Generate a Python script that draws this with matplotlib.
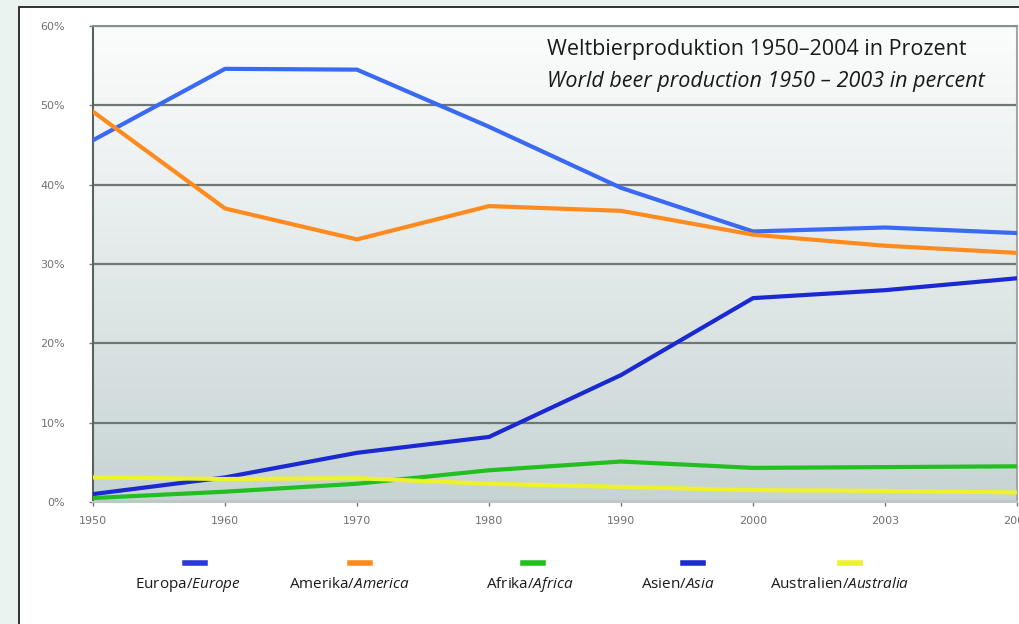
import numpy as np
import matplotlib.pyplot as plt
from matplotlib.patches import Rectangle
from matplotlib.lines import Line2D

# Data (share of world beer production, %)
years = ["1950", "1960", "1970", "1980", "1990", "2000", "2003", "2004"]
europe = [45.6, 54.6, 54.5, 47.3, 39.6, 34.1, 34.6, 33.9]
america = [49.2, 37.0, 33.1, 37.3, 36.7, 33.7, 32.3, 31.4]
africa = [0.5, 1.3, 2.3, 4.0, 5.1, 4.3, 4.4, 4.5]
asia = [1.0, 3.1, 6.2, 8.2, 16.0, 25.7, 26.7, 28.2]
australia = [3.1, 2.9, 3.0, 2.3, 1.9, 1.5, 1.4, 1.2]

names_de = ["Europa", "Amerika", "Afrika", "Asien", "Australien"]
names_en = ["Europe", "America", "Africa", "Asia", "Australia"]
series = [europe, america, africa, asia, australia]
line_colors = ["#3a6af4", "#ff8a1e", "#22c01e", "#1a2ad0", "#eef22a"]
key_colors = ["#2a3ad4", "#ff8a1e", "#22c01e", "#1a2ad0", "#eef22a"]

plt.rcParams['font.family'] = ['Open Sans', 'DejaVu Sans']
plt.rcParams['mathtext.fontset'] = 'custom'
plt.rcParams['mathtext.rm'] = 'Open Sans'
plt.rcParams['mathtext.it'] = 'Open Sans:italic'

fig = plt.figure(figsize=(10.2, 6.24), dpi=100)
fig.patch.set_facecolor("#eaf3ef")

# white panel with black frame (runs off the right and bottom edges)
fig.patches.append(Rectangle((19 / 1020, -0.05), 1.2, 1 - 7 / 624 + 0.05,
                             transform=fig.transFigure, facecolor="white",
                             edgecolor="#222222", linewidth=1.3, zorder=-10))

ax = fig.add_axes([93 / 1020, 1 - 502 / 624, (1017 - 93) / 1020, (502 - 26) / 624])
ax.set_zorder(1)
x = np.arange(len(years))

# gradient background of the plot area
grad = np.linspace(0, 1, 256).reshape(-1, 1)
top = np.array([0.985, 0.988, 0.988])
bottom = np.array([0.78, 0.83, 0.83])
img = top + (bottom - top) * grad[..., None] ** 1.1
ax.imshow(img, extent=[0, 1, 0, 1], transform=ax.transAxes, aspect="auto",
          zorder=0, origin="upper")

for vals, col in zip(series, line_colors):
    ax.plot(x, vals, color=col, linewidth=3, solid_joinstyle="round", zorder=3)

ax.set_xlim(0, len(years) - 1)
ax.set_ylim(0, 60)
ax.set_xticks(x)
ax.set_xticklabels(years)
ax.set_yticks(np.arange(0, 61, 10))
ax.set_yticklabels([f"{v}%" for v in range(0, 61, 10)])
ax.tick_params(axis="both", labelsize=8, labelcolor="#707070", color="#777777",
               length=3, width=1)
ax.tick_params(axis="y", pad=17)
ax.tick_params(axis="x", pad=7)
for lab in ax.get_xticklabels() + ax.get_yticklabels():
    lab.set_family("DejaVu Sans")
ax.grid(axis="y", color="#6f7775", linewidth=1.6, zorder=1)
ax.set_axisbelow(True)
for side, col in [("left", "#5a6260"), ("top", "#8a9290"),
                  ("right", "#a0a8a6"), ("bottom", "#c0c8c6")]:
    ax.spines[side].set_color(col)
    ax.spines[side].set_linewidth(1.5)

# title text inside the plot
fig.text(547 / 1020, 1 - 50 / 624, "Weltbierproduktion 1950\u20132004 in Prozent",
         fontsize=15.5, color="#1a1a1a", va="center", zorder=5)
fig.text(547 / 1020, 1 - 82 / 624, "World beer production 1950 \u2013 2003 in percent",
         fontsize=15.5, color="#1a1a1a", style="italic", va="center", zorder=5)

# legend: short key above each label
key_x = [195, 360, 533, 693, 850]
lab_x = [188, 350, 530, 678, 840]
for de, en, col, kx, lx in zip(names_de, names_en, key_colors, key_x, lab_x):
    fig.lines.append(Line2D([(kx - 10) / 1020, (kx + 10) / 1020], [1 - 563 / 624] * 2,
                            transform=fig.transFigure, color=col, linewidth=4))
    fig.text(lx / 1020, 1 - 585 / 624, de + "/$" + en + "$", fontsize=11,
             color="#1a1a1a", ha="center", va="center")

fig.savefig("out.png", dpi=100, facecolor=fig.get_facecolor())
